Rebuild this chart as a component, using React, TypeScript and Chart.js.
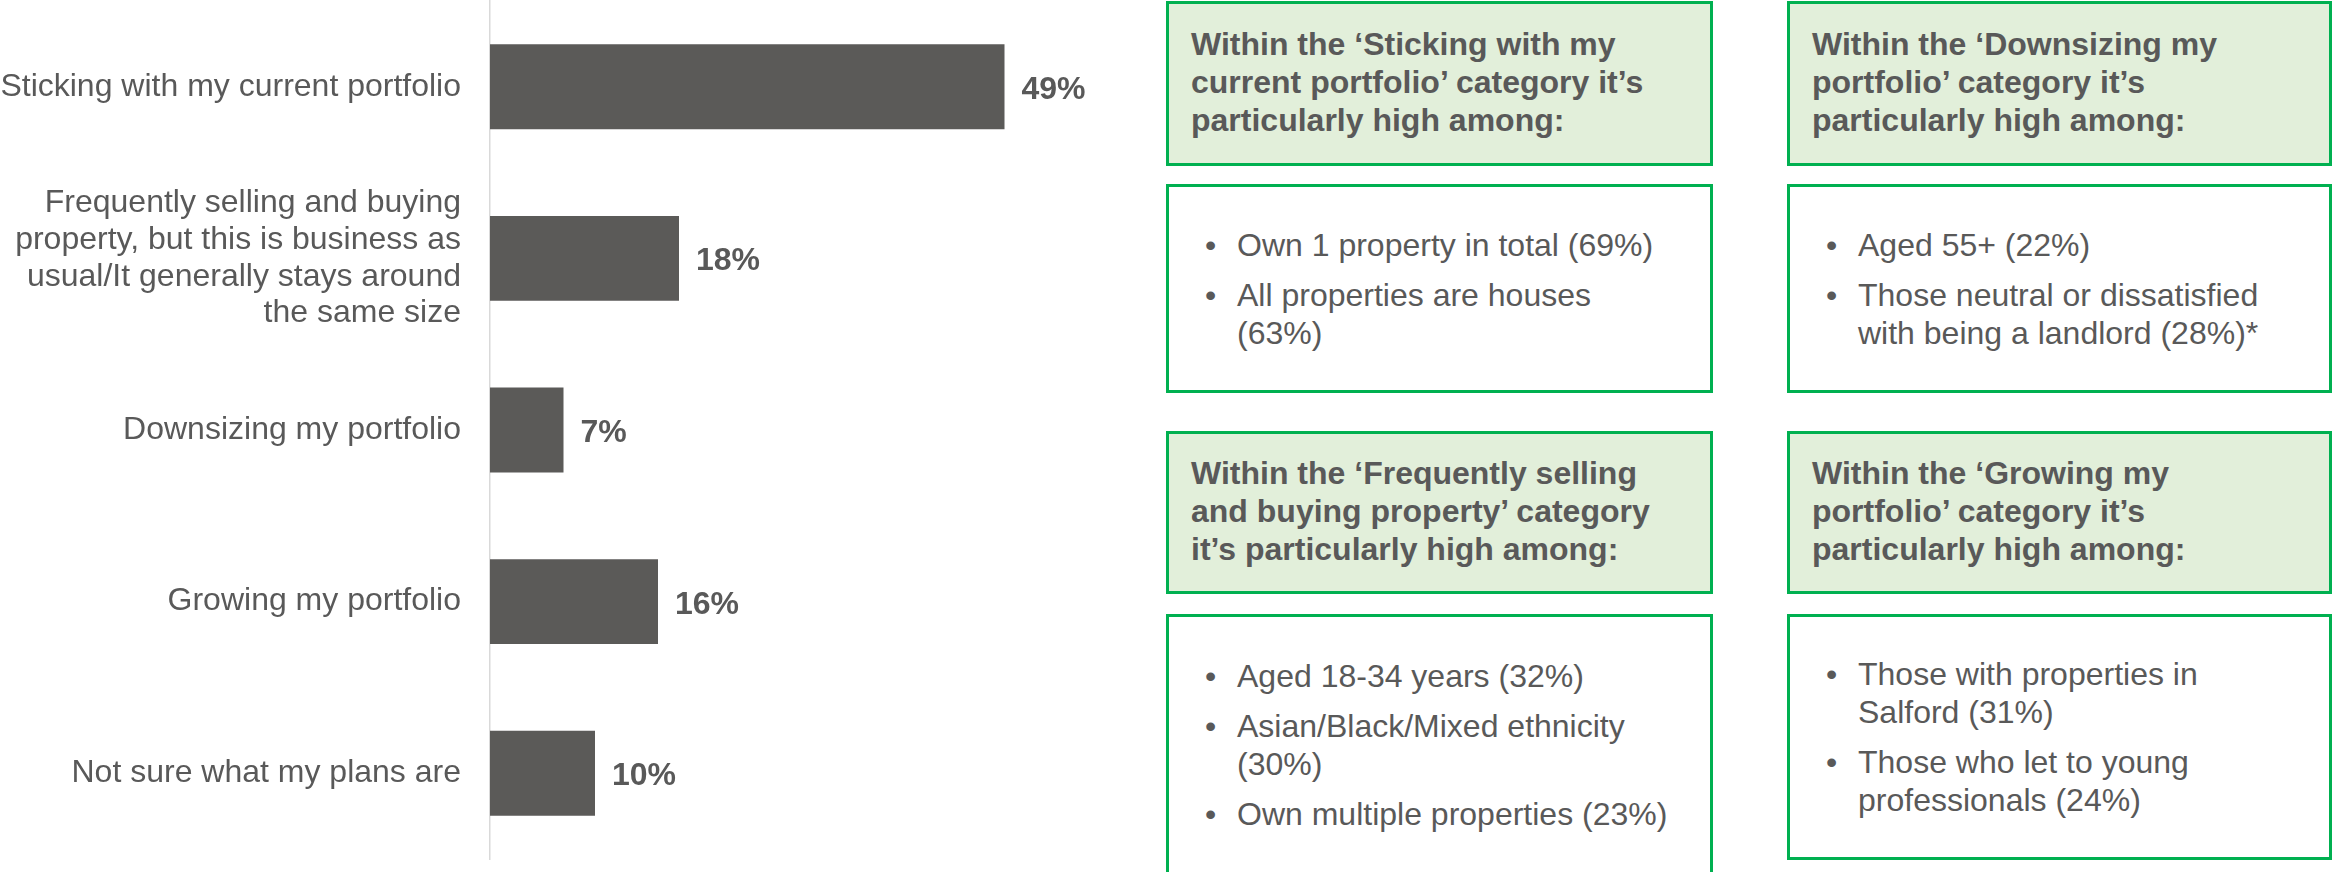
import React, { useEffect, useRef } from "react";
import { Chart, registerables } from "chart.js";

Chart.register(...registerables);

// ---- Data ----
const categories: string[][] = [
  ["Sticking with my current portfolio"],
  [
    "Frequently selling and buying",
    "property, but this is business as",
    "usual/It generally stays around",
    "the same size",
  ],
  ["Downsizing my portfolio"],
  ["Growing my portfolio"],
  ["Not sure what my plans are"],
];
const values: number[] = [49, 18, 7, 16, 10];
const axisMin = 0;
const axisMax = 60;

const headerSticking: string[] = [
  "Within the \u2018Sticking with my",
  "current portfolio\u2019 category it\u2019s",
  "particularly high among:",
];
const bulletsSticking: string[][] = [
  ["Own 1 property in total (69%)"],
  ["All properties are houses", "(63%)"],
];
const headerDownsizing: string[] = [
  "Within the \u2018Downsizing my",
  "portfolio\u2019 category it\u2019s",
  "particularly high among:",
];
const bulletsDownsizing: string[][] = [
  ["Aged 55+ (22%)"],
  ["Those neutral or dissatisfied", "with being a landlord (28%)*"],
];
const headerFrequent: string[] = [
  "Within the \u2018Frequently selling",
  "and buying property\u2019 category",
  "it\u2019s particularly high among:",
];
const bulletsFrequent: string[][] = [
  ["Aged 18-34 years (32%)"],
  ["Asian/Black/Mixed ethnicity", "(30%)"],
  ["Own multiple properties (23%)"],
];
const headerGrowing: string[] = [
  "Within the \u2018Growing my",
  "portfolio\u2019 category it\u2019s",
  "particularly high among:",
];
const bulletsGrowing: string[][] = [
  ["Those with properties in", "Salford (31%)"],
  ["Those who let to young", "professionals (24%)"],
];

// ---- Styles ----
const FONT = "'Liberation Sans', Arial, Helvetica, sans-serif";
const TEXT = "#595959";
const BAR = "#5b5a58";
const GREEN = "#00b050";
const HEADER_BG = "#e2efda";

const valueLabelPlugin = {
  id: "valueLabels",
  afterDatasetsDraw(chart: any) {
    const ctx = chart.ctx;
    const meta = chart.getDatasetMeta(0);
    ctx.save();
    ctx.font = `bold 32px ${FONT}`;
    ctx.fillStyle = TEXT;
    ctx.textAlign = "left";
    ctx.textBaseline = "alphabetic";
    meta.data.forEach((el: any, i: number) => {
      const v = chart.data.datasets[0].data[i];
      ctx.fillText(`${v}%`, el.x + 17, el.y + 12);
    });
    ctx.restore();
  },
};

function Box(props: {
  left: number;
  top: number;
  width: number;
  height: number;
  header?: string[];
  bullets?: string[][];
}) {
  const { left, top, width, height, header, bullets } = props;
  return (
    <div
      style={{
        position: "absolute",
        left,
        top,
        width,
        height,
        boxSizing: "border-box",
        border: `3px solid ${GREEN}`,
        background: header ? HEADER_BG : "#ffffff",
        display: "flex",
        flexDirection: "column",
        justifyContent: "center",
        fontFamily: FONT,
        fontSize: 32,
        lineHeight: "38px",
        color: TEXT,
        whiteSpace: "nowrap",
      }}
    >
      {header && (
        <div style={{ paddingLeft: 22, fontWeight: "bold", paddingBottom: 4 }}>
          {header.map((l, i) => (
            <div key={i}>{l}</div>
          ))}
        </div>
      )}
      {bullets && (
        <div style={{ paddingLeft: 68 }}>
          {bullets.map((b, i) => (
            <div
              key={i}
              style={{ position: "relative", marginTop: i === 0 ? 0 : 12 }}
            >
              <span style={{ position: "absolute", left: -32, top: 0 }}>
                {"\u2022"}
              </span>
              {b.map((l, j) => (
                <div key={j}>{l}</div>
              ))}
            </div>
          ))}
        </div>
      )}
    </div>
  );
}

export default function App() {
  const canvasRef = useRef<HTMLCanvasElement | null>(null);

  useEffect(() => {
    if (!canvasRef.current) return;
    const chart = new Chart(canvasRef.current, {
      type: "bar",
      data: {
        labels: categories,
        datasets: [
          {
            data: values,
            backgroundColor: BAR,
            borderWidth: 0,
            categoryPercentage: 1,
            barPercentage: 0.495,
          },
        ],
      },
      options: {
        indexAxis: "y",
        animation: false,
        responsive: false,
        maintainAspectRatio: false,
        layout: { padding: { top: 1, bottom: 13, left: 0, right: 0 } },
        plugins: {
          legend: { display: false },
          tooltip: { enabled: false },
        },
        scales: {
          x: {
            display: false,
            min: axisMin,
            max: axisMax,
          },
          y: {
            type: "category",
            grid: { display: false, drawTicks: false },
            border: { display: true, color: "#d9d9d9", width: 1.5 },
            ticks: {
              color: TEXT,
              padding: 29,
              font: { family: FONT, size: 32, lineHeight: 1.146 },
            },
            afterFit: (axis: any) => {
              axis.width = 490;
              axis.paddingTop = 0;
              axis.paddingBottom = 0;
            },
          },
        },
      },
      plugins: [valueLabelPlugin],
    } as any);
    return () => chart.destroy();
  }, []);

  return (
    <div
      style={{
        position: "fixed",
        left: 0,
        top: 0,
        width: 2333,
        height: 872,
        overflow: "hidden",
        background: "#ffffff",
      }}
    >
      <canvas
        ref={canvasRef}
        width={1120}
        height={872}
        style={{ position: "absolute", left: 0, top: 0, width: 1120, height: 872 }}
      />
      <Box left={1166} top={1} width={547} height={165} header={headerSticking} />
      <Box left={1166} top={184} width={547} height={209} bullets={bulletsSticking} />
      <Box left={1166} top={431} width={547} height={163} header={headerFrequent} />
      <Box left={1166} top={614} width={547} height={261} bullets={bulletsFrequent} />
      <Box left={1787} top={1} width={545} height={165} header={headerDownsizing} />
      <Box left={1787} top={184} width={545} height={209} bullets={bulletsDownsizing} />
      <Box left={1787} top={431} width={545} height={163} header={headerGrowing} />
      <Box left={1787} top={614} width={545} height={246} bullets={bulletsGrowing} />
    </div>
  );
}
